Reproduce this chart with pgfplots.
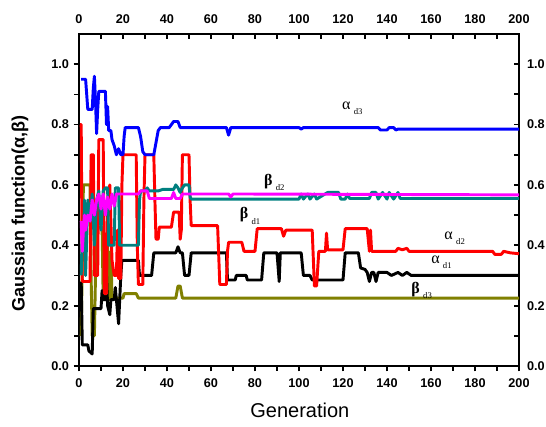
\documentclass[border=0pt]{standalone}
\usepackage{fontspec}
\setmainfont{Liberation Sans}
\newfontfamily\greekserif{Liberation Serif}
\usepackage{pgfplots}
\pgfplotsset{compat=1.18}

\definecolor{cblue}{RGB}{0,0,255}
\definecolor{cred}{RGB}{255,0,0}
\definecolor{colive}{RGB}{128,128,0}
\definecolor{cteal}{RGB}{0,128,128}
\definecolor{cmag}{RGB}{255,0,255}

% curve name: Greek letter with a lowered, spaced-out subscript
\newcommand{\curvelabel}[3][\mdseries]{{\greekserif#1\fontsize{12}{13}\selectfont #2}\raisebox{-4pt}{\hspace{2.5pt}\greekserif\fontsize{6.5}{7}\selectfont #3}}

\pgfplotsset{
  common/.style={
    scale only axis, width=330pt, height=249pt,
    xmin=0, xmax=200, ymin=0, ymax=1.1,
    xtick={0,20,...,200}, ytick={0,0.2,...,1.0},
    minor x tick num=1, minor y tick num=1,
    major tick length=4pt, minor tick length=3.5pt,
    every tick/.style={line width=1.3pt, black},
    axis line style={line width=1.6pt},
    /pgf/number format/assume math mode=true,
    ticklabel style={font=\bfseries\fontsize{9.5}{11}\selectfont},
    yticklabel style={/pgf/number format/fixed, /pgf/number format/fixed zerofill, /pgf/number format/precision=1},
    xticklabel style={/pgf/number format/fixed, /pgf/number format/precision=0},
  },
}

\begin{document}
\begin{tikzpicture}
% top and right scales, ticks pointing inward
\begin{axis}[common,
  tick align=inside,
  xtick pos=upper, xticklabel pos=upper,
  ytick pos=right, yticklabel pos=right,
  xticklabel style={yshift=4pt},
  yticklabel style={xshift=2.5pt},
]
\end{axis}

% bottom and left scales with the curves
\begin{axis}[common,
  tick align=outside,
  xtick pos=lower, xticklabel pos=lower,
  ytick pos=left, yticklabel pos=left,
  xticklabel style={yshift=-2pt},
  xlabel={Generation},
  xlabel style={font=\fontsize{15}{18}\selectfont, at={(axis description cs:0.502,-0.1325)}, anchor=center},
  ylabel={Gaussian function(α,β)},
  ylabel style={font=\bfseries\fontsize{13.5}{16}\selectfont, at={(axis description cs:-0.134,0.46)}, anchor=center},
  every axis plot/.append style={line width=2.2pt, line join=round},
]

% beta_d3
\addplot[colive] coordinates {
(1,0.10)(1.5,0.35)(2,0.60)(5,0.60)(5.5,0.30)(6,0.10)(7,0.10)(7.5,0.30)(8,0.46)(10.5,0.46)
(11,0.22)(11.5,0.22)(12,0.40)(12.5,0.22)(13,0.40)(13.5,0.22)(14,0.22)(14.5,0.38)(15,0.225)
(20,0.225)(20.5,0.24)(26,0.24)(27,0.225)(44,0.225)(45,0.265)(46,0.265)(47,0.225)(200,0.225)
};

% alpha_d1
\addplot[black] coordinates {
(1,0.28)(1.5,0.07)(4,0.07)(4.5,0.05)(6,0.04)(6.5,0.19)(10,0.19)(10.5,0.25)(11,0.22)(12,0.22)
(12.5,0.30)(13,0.20)(14,0.17)(14.5,0.22)(16,0.22)(16.5,0.26)(17,0.22)(18,0.14)(18.5,0.22)
(19,0.30)(19.5,0.35)(27,0.35)(27.5,0.30)(33,0.30)(34,0.375)(44,0.375)(45,0.395)(46,0.375)
(47,0.375)(48,0.30)(50,0.30)(51,0.375)(67,0.375)(67.5,0.285)(71,0.285)(71.5,0.30)(76,0.30)
(76.5,0.285)(83,0.285)(84,0.375)(90,0.375)(91,0.28)(91.5,0.375)(101,0.375)(102,0.30)
(105,0.30)(106,0.285)(120,0.285)(121,0.375)(127,0.375)(128,0.325)(130,0.32)(131,0.31)
(132,0.28)(133,0.31)(134,0.31)(135,0.28)(136,0.31)(140,0.31)(142,0.30)(145,0.31)(147,0.30)
(149,0.31)(151,0.30)(200,0.30)
};

% alpha_d2
\addplot[cred] coordinates {
(0.5,0.80)(1,0.80)(1.5,0.28)(5,0.28)(5.5,0.70)(6.5,0.70)(7,0.30)(8.5,0.30)(9,0.75)(11,0.75)
(11.5,0.24)(12.5,0.24)(13,0.55)(14,0.60)(15,0.35)(16,0.30)(17,0.30)(17.5,0.45)(18,0.29)
(19,0.29)(19.5,0.60)(20,0.70)(26,0.70)(26.5,0.40)(27,0.27)(29,0.27)(29.5,0.55)(30,0.70)
(34,0.70)(34.5,0.55)(35,0.42)(36,0.42)(36.5,0.46)(42,0.46)(43,0.51)(45.5,0.51)(46,0.42)
(46.5,0.45)(47,0.70)(50,0.70)(50.5,0.55)(51,0.465)(63,0.465)(64,0.27)(67,0.27)(67.5,0.38)
(68,0.41)(74,0.41)(75,0.38)(80,0.38)(81,0.455)(92,0.455)(93,0.43)(94,0.45)(106,0.45)
(107,0.265)(108,0.265)(109,0.38)(112,0.38)(112.5,0.44)(113,0.385)(120,0.385)(121,0.455)
(131,0.455)(132,0.38)(132.5,0.45)(133,0.38)(144,0.38)(145,0.39)(147,0.385)(149,0.39)
(150,0.38)(188,0.38)(189,0.37)(192,0.37)(193,0.38)(196,0.375)(200,0.372)
};

% beta_d1
\addplot[cteal] coordinates {
(1,0.30)(1.5,0.45)(2,0.38)(2.5,0.55)(3,0.30)(4,0.55)(5,0.48)(6,0.57)(7,0.40)(8,0.55)(9,0.58)
(10,0.45)(11,0.58)(12,0.59)(13,0.59)(13.5,0.40)(16,0.40)(16.5,0.59)(18,0.59)(18.5,0.40)
(27,0.40)(27.5,0.55)(28,0.58)(30,0.58)(31,0.59)(32,0.58)(36,0.58)(38,0.585)(43,0.585)
(44,0.60)(45,0.59)(46,0.575)(47,0.59)(48,0.60)(50,0.60)(50.5,0.56)(51,0.553)(100,0.553)
(101,0.57)(102,0.553)(104,0.57)(105,0.553)(107,0.57)(108,0.553)(113,0.575)(118,0.575)
(119,0.553)(121,0.553)(122,0.57)(123,0.555)(132,0.555)(133,0.575)(135,0.575)(136,0.553)
(138,0.575)(140,0.553)(141,0.575)(143,0.553)(145,0.575)(146,0.555)(200,0.555)
};

% beta_d2
\addplot[cmag] coordinates {
(1,0.48)(1.5,0.38)(2,0.45)(2.5,0.50)(3,0.45)(4,0.50)(5,0.48)(6,0.55)(7,0.50)(8,0.55)(9,0.57)
(10,0.52)(11,0.57)(12,0.50)(13,0.56)(14,0.52)(15,0.57)(16,0.53)(17,0.57)(27,0.57)(28,0.58)
(31,0.58)(32,0.555)(42,0.555)(43,0.575)(44,0.555)(46,0.555)(47,0.57)(68,0.57)(69,0.56)
(70,0.57)(200,0.567)
};

% alpha_d3
\addplot[cblue] coordinates {
(1,0.95)(3,0.95)(3.5,0.90)(4,0.85)(6,0.85)(6.5,0.92)(7,0.96)(7.5,0.88)(8,0.77)(8.5,0.85)
(9,0.91)(12,0.91)(12.5,0.80)(13,0.86)(13.5,0.78)(14.5,0.78)(15,0.75)(16,0.73)(17,0.70)
(18,0.72)(19,0.70)(20,0.70)(20.5,0.76)(21,0.79)(27,0.79)(28,0.76)(29,0.71)(30,0.70)(34,0.70)
(35,0.74)(36,0.78)(37,0.79)(41,0.79)(42,0.80)(43,0.81)(45,0.81)(46,0.79)(67,0.79)(68,0.765)
(69,0.79)(100,0.79)(101,0.785)(102,0.79)(136,0.79)(137,0.782)(140,0.782)(141,0.79)(143,0.79)
(144,0.782)(145,0.785)(200,0.785)
};

\node[anchor=west, inner sep=0pt] at (axis cs:119.5,0.855) {\curvelabel{α}{d3}};
\node[anchor=west, inner sep=0pt] at (axis cs:84,0.609) {\curvelabel[\bfseries]{β}{d2}};
\node[anchor=west, inner sep=0pt] at (axis cs:73,0.497) {\curvelabel[\bfseries]{β}{d1}};
\node[anchor=west, inner sep=0pt] at (axis cs:166,0.424) {\curvelabel{α}{d2}};
\node[anchor=west, inner sep=0pt] at (axis cs:160,0.344) {\curvelabel{α}{d1}};
\node[anchor=west, inner sep=0pt] at (axis cs:151,0.25) {\curvelabel[\bfseries]{β}{d3}};
\end{axis}

\pgfresetboundingbox
\path[use as bounding box] (-59.25pt,-45pt) rectangle (350.25pt,274.5pt);
\end{tikzpicture}
\end{document}
